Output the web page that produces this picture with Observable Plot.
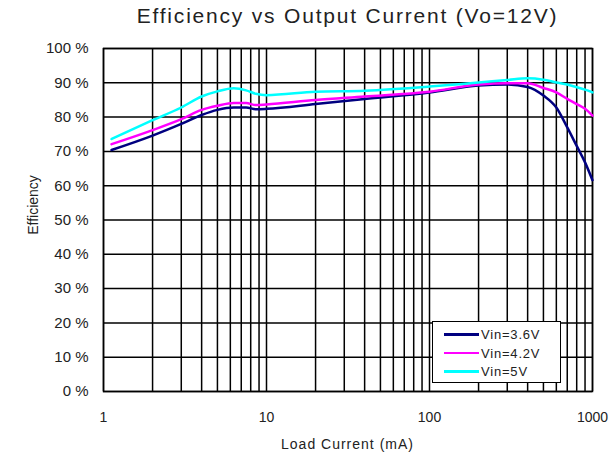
<!DOCTYPE html>
<html>
<head>
<meta charset="utf-8">
<script src="https://cdn.jsdelivr.net/npm/d3@7"></script>
<script src="https://cdn.jsdelivr.net/npm/@observablehq/plot@0.6"></script>
<style>
  body { margin: 0; background: #fff; font-family: "Liberation Sans", Arial, sans-serif; }
  #wrap { position: relative; width: 613px; height: 458px; overflow: hidden; }
  #title { position: absolute; left: 90px; width: 515px; top: 4px; text-align: center;
           font-size: 21px; letter-spacing: 1.8px; color: #222; white-space: nowrap; }
  #ylab { position: absolute; left: 33px; top: 205px; transform: translate(-50%, -50%) rotate(-90deg);
          font-size: 14px; color: #222; white-space: nowrap; }
  #xlab { position: absolute; left: 103px; width: 489px; top: 436px; text-align: center;
          font-size: 14px; letter-spacing: 1px; color: #222; }
  #legend { position: absolute; left: 432px; top: 321px; width: 127px; height: 60px;
            border: 1.5px solid #000; background: #fff; }
  .item { position: absolute; left: 11px; height: 17px; display: flex; align-items: center;
          font-size: 13px; letter-spacing: 0.8px; color: #222; }
  .sw { width: 35px; height: 2.5px; margin-right: 2px; }
</style>
</head>
<body>
<div id="wrap">
  <div id="title">Efficiency vs Output Current (Vo=12V)</div>
  <div id="ylab">Efficiency</div>
  <div id="xlab">Load Current (mA)</div>
  <div id="legend"></div>
</div>
<script>
// Load current (mA)
const loads = [1.12, 2, 3, 4, 5, 6.3, 7.5, 8.6, 10, 20, 40, 100, 200, 300, 400, 500, 600, 700, 800, 900, 1000];
// Efficiency (%) per input voltage
const vin36 = [70.4, 74.6, 78.0, 80.6, 82.1, 82.8, 82.8, 82.3, 82.4, 83.8, 85.3, 87.2, 89.2, 89.5, 88.8, 86.3, 82.8, 77.0, 71.6, 66.8, 61.6];
const vin42 = [72.1, 76.2, 79.4, 82.1, 83.3, 84.1, 84.1, 83.5, 83.7, 85.0, 86.0, 87.4, 89.5, 89.9, 89.9, 88.5, 87.2, 85.3, 83.8, 82.4, 80.4];
const vin5  = [73.6, 79.1, 82.8, 86.0, 87.5, 88.4, 87.8, 86.8, 86.4, 87.4, 87.7, 88.9, 90.1, 90.8, 91.3, 90.9, 90.1, 89.5, 88.7, 88.0, 87.2];
const seriesNames = ["Vin=3.6V", "Vin=4.2V", "Vin=5V"];
const seriesColors = ["#000080", "#ff00ff", "#00ffff"];
const xTickLabels = [1, 10, 100, 1000];
const yTickLabels = [0, 10, 20, 30, 40, 50, 60, 70, 80, 90, 100];

const seriesValues = [vin36, vin42, vin5];
const rows = [];
seriesValues.forEach((vals, i) => vals.forEach((v, j) => rows.push({x: loads[j], y: v, s: seriesNames[i]})));

const xGrid = [];
for (const dec of [1, 10, 100]) for (let k = 1; k <= 9; k++) xGrid.push(k * dec);
xGrid.push(1000);

const chart = Plot.plot({
  width: 613,
  height: 458,
  marginLeft: 103,
  marginRight: 21,
  marginTop: 48,
  marginBottom: 67,
  style: {fontFamily: "'Liberation Sans', Arial, sans-serif", fontSize: "14px", color: "#222", background: "transparent"},
  x: {type: "log", domain: [1, 1000]},
  y: {domain: [0, 100]},
  color: {domain: seriesNames, range: seriesColors},
  marks: [
    Plot.ruleX(xGrid, {stroke: "#000", strokeWidth: 1.5}),
    Plot.ruleY(yTickLabels, {stroke: "#000", strokeWidth: 1.5}),
    Plot.frame({stroke: "#000", strokeWidth: 1.5}),
    Plot.axisY(yTickLabels, {tickSize: 0, tickPadding: 15, tickFormat: d => d + " %", label: null, fontSize: 15, letterSpacing: "0.8px"}),
    Plot.axisX(xTickLabels, {tickSize: 0, tickPadding: 21, tickFormat: d => String(d), label: null, fontSize: 14, letterSpacing: "1px"}),
    Plot.line(rows, {x: "x", y: "y", z: "s", stroke: "s", strokeWidth: 2.5, curve: "monotone-x"})
  ]
});
const wrap = document.getElementById("wrap");
chart.style.position = "absolute";
chart.style.left = "0";
chart.style.top = "0";
wrap.insertBefore(chart, wrap.firstChild);

const legend = document.getElementById("legend");
seriesNames.forEach((name, i) => {
  const it = document.createElement("div");
  it.className = "item";
  it.style.top = (4 + i * 18.5) + "px";
  const sw = document.createElement("div");
  sw.className = "sw";
  sw.style.background = seriesColors[i];
  it.appendChild(sw);
  it.appendChild(document.createTextNode(name));
  legend.appendChild(it);
});
</script>
</body>
</html>
